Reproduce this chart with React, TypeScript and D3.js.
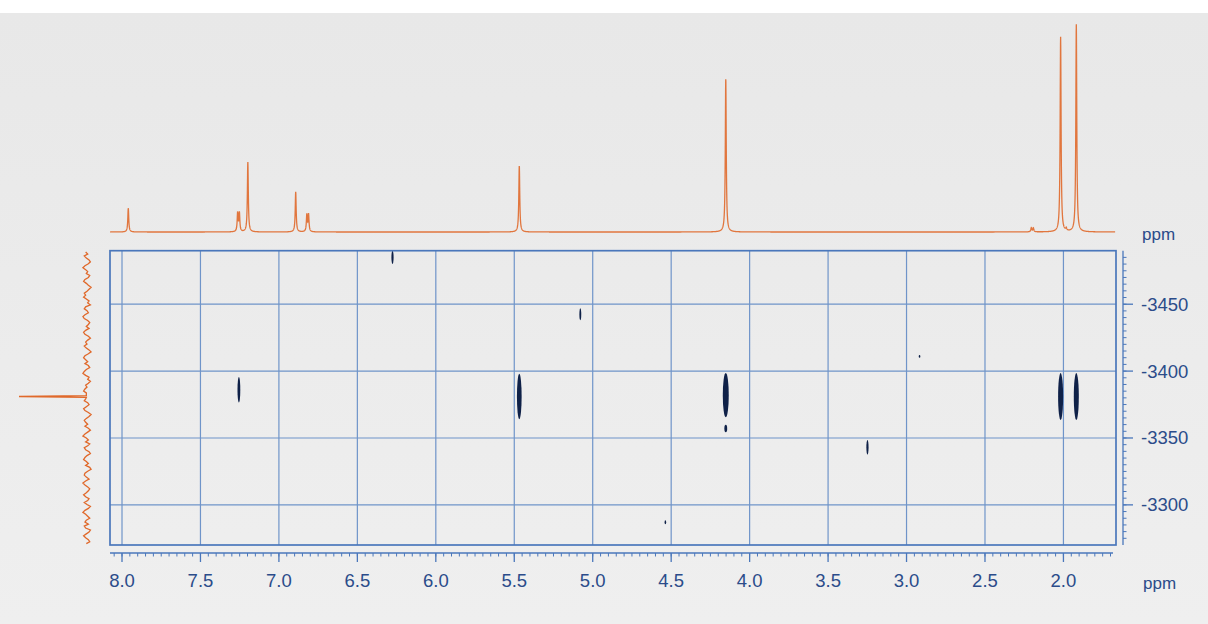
import React from 'react';
import * as d3 from 'd3';

const W = 1208;
const H = 624;

// Axis ticks (F2 = 1H, F1 = heteronucleus)
const f2Ticks = [8.0, 7.5, 7.0, 6.5, 6.0, 5.5, 5.0, 4.5, 4.0, 3.5, 3.0, 2.5, 2.0];
const f1Ticks = [-3450, -3400, -3350, -3300];

// 1D proton spectrum: line positions (ppm) and relative intensities
const h1Shifts = [7.96, 7.263, 7.252, 7.198, 6.893, 6.822, 6.811, 5.468, 4.152, 2.205, 2.192, 2.018, 1.982, 1.918];
const h1Heights = [11.3, 8.8, 8.8, 33, 18.9, 8, 8, 31.3, 72.6, 1.9, 1.9, 92, 1.2, 98];

// 2D cross peaks: F2 shift, F1 shift, half-widths in each dimension
const xpkF2 = [7.255, 5.468, 4.152, 4.152, 2.018, 1.918, 6.276, 5.079, 3.249, 2.917, 4.537];
const xpkF1 = [-3386, -3381, -3382, -3357, -3381, -3381, -3485, -3442.5, -3343, -3411, -3287];
const xpkWF2 = [0.009, 0.015, 0.019, 0.009, 0.016, 0.016, 0.007, 0.006, 0.007, 0.005, 0.005];
const xpkWF1 = [9.5, 17, 16.5, 2.8, 17.5, 17.5, 5, 4.5, 5.5, 1, 1.5];

// F1 projection: baseline noise samples (top to bottom) and the single peak
const projNoise = [
  2, -1, 4, 1, -3, -5, -2, 3, 6, 2, -1, 1, -4, -2, 3, 5, 1, -2, -6, -3, 0, 4, 2, 5, 1, -3, -1, -5, 2, 4,
  0, -2, 3, 6, 4, -1, -4, -2, 1, -3, 2, 5, 3, -2, -5, -1, 2, 0, 4, 1, -3, -6, -2, 3, 5, 2, -1, 3, -2, -4,
  1, 4, 6, 2, -3, -1, -5, -2, 2, 0, 3, 5, 1, -4, -2, 2, 4, -1, -3, 1, 5, 3, -2, -6, -3, 1, 4, 2, -1, 3,
  -2, -5, -1, 3, 6, 1, -2, 2, -4, -1, 4, 2, -3, -5, 0, 3, 5, 1, -2, 2, -4, -6, -1, 3, 4, 1, -3, 2, 6, 3,
  -1, -4, -2, 1, 5, 2, -3, -1, 4, 0, -5, -2, 3, 6, 2, -1, -4, 1, 3, -2, 4, 2, -5, -3, 1, 5, 2, -2, -4, 1
];
const projPeakF1 = -3381;
const projPeakHeight = 100;

const FONT = "'Liberation Sans', Arial, Helvetica, sans-serif";
const TEXT = '#2b4c8a';
const ORANGE = '#e0692b';
const FRAME = '#4a77bb';
const GRID = '#6f94c9';
const PEAK = '#0f2148';

export default function App() {
  const box = { left: 110, right: 1116, top: 250.7, bottom: 545 };

  const x = d3.scaleLinear().domain([8.0765, 1.665]).range([box.left, box.right]);
  const y = d3.scaleLinear().domain([-3490, -3270]).range([box.top, box.bottom]);

  // top 1D trace
  const yTop = d3.scaleLinear().domain([0, 100]).range([232, 20]);
  const hw = 0.0035;
  const step = 0.0008;
  const pts: [number, number][] = [];
  const [d0, d1] = x.domain();
  for (let p = d0 - 0.001; p >= d1 + 0.005; p -= step) {
    let s = 0;
    for (let i = 0; i < h1Shifts.length; i++) {
      const dx = p - h1Shifts[i];
      s += (h1Heights[i] * hw * hw) / (dx * dx + hw * hw);
    }
    pts.push([p, s]);
  }
  const topLine = d3
    .line<[number, number]>()
    .x((d) => x(d[0]))
    .y((d) => yTop(d[1]))(pts);

  // left F1 projection
  const xProj = d3.scaleLinear().domain([0, 100]).range([87, 19]);
  const f1Start = -3489;
  const f1End = -3271;
  const nStep = (f1End - f1Start) / (projNoise.length - 1);
  const proj: [number, number][] = projNoise.map((v, i) => [f1Start + i * nStep, v]);
  const projAll = proj
    .filter((d) => Math.abs(d[0] - projPeakF1) > 1.2)
    .concat([
      [projPeakF1 - 0.7, 1],
      [projPeakF1, projPeakHeight],
      [projPeakF1 + 0.7, 1],
    ])
    .sort((a, b) => a[0] - b[0]);
  const projLine = d3
    .line<[number, number]>()
    .x((d) => xProj(d[1]))
    .y((d) => y(d[0]))(projAll);

  // minor ticks
  const f2Minor = d3.range(0, 129).map((i) => 8.0 - i * 0.05).filter((v) => v >= 1.68);
  const f2MinorExtra = [8.05];
  const f1Minor = d3.range(-3485, -3270, 5);

  const axisY = 553;
  const axisX = 1123;

  return (
    <svg
      width={W}
      height={H}
      viewBox={`0 0 ${W} ${H}`}
      style={{ position: 'absolute', left: 0, top: 0, display: 'block' }}
    >
      <defs>
        <linearGradient id="bg" x1="0" y1="0" x2="0" y2="1">
          <stop offset="0" stopColor="#e8e8e8" />
          <stop offset="1" stopColor="#efefef" />
        </linearGradient>
        <clipPath id="plotClip">
          <rect x={box.left} y={box.top} width={box.right - box.left} height={box.bottom - box.top} />
        </clipPath>
      </defs>

      <rect x={0} y={0} width={W} height={H} fill="#ffffff" />
      <rect x={0} y={13} width={W} height={H - 13} fill="url(#bg)" />

      {/* 1D proton spectrum on top */}
      <path d={topLine ?? ''} fill="none" stroke={ORANGE} strokeWidth={1.3} strokeOpacity={0.9} />

      {/* F1 projection on the left */}
      <path d={projLine ?? ''} fill="none" stroke={ORANGE} strokeWidth={1.3} />

      {/* grid */}
      {f2Ticks.map((t) => (
        <line key={`gx${t}`} x1={x(t)} x2={x(t)} y1={box.top} y2={box.bottom} stroke={GRID} strokeWidth={1.2} />
      ))}
      {f1Ticks.map((t) => (
        <line key={`gy${t}`} x1={box.left} x2={box.right} y1={y(t)} y2={y(t)} stroke={GRID} strokeWidth={1.2} />
      ))}

      {/* cross peaks */}
      <g clipPath="url(#plotClip)">
        {xpkF2.map((f2, i) => (
          <ellipse
            key={`pk${i}`}
            cx={x(f2)}
            cy={y(xpkF1[i])}
            rx={Math.abs(x(f2 + xpkWF2[i]) - x(f2))}
            ry={Math.abs(y(xpkF1[i] + xpkWF1[i]) - y(xpkF1[i]))}
            fill={PEAK}
          />
        ))}
      </g>

      {/* frame */}
      <rect
        x={box.left}
        y={box.top}
        width={box.right - box.left}
        height={box.bottom - box.top}
        fill="none"
        stroke={FRAME}
        strokeWidth={1.7}
      />

      {/* bottom axis */}
      <line x1={box.left} x2={box.right - 3} y1={axisY} y2={axisY} stroke={FRAME} strokeWidth={1.3} />
      {f2Minor.concat(f2MinorExtra).map((t) => (
        <line key={`mx${t.toFixed(2)}`} x1={x(t)} x2={x(t)} y1={axisY} y2={axisY + 3.5} stroke={FRAME} strokeWidth={1} />
      ))}
      {f2Ticks.map((t) => (
        <g key={`tx${t}`}>
          <line x1={x(t)} x2={x(t)} y1={axisY} y2={axisY + 9} stroke={FRAME} strokeWidth={1.3} />
          <text x={x(t)} y={587} textAnchor="middle" fontFamily={FONT} fontSize={18.5} fill={TEXT}>
            {t.toFixed(1)}
          </text>
        </g>
      ))}
      <text x={1143} y={589} fontFamily={FONT} fontSize={17} fill={TEXT}>
        ppm
      </text>

      {/* right axis */}
      <line x1={axisX} x2={axisX} y1={box.top} y2={box.bottom} stroke={FRAME} strokeWidth={1.3} />
      {f1Minor.map((t) => (
        <line key={`my${t}`} x1={axisX} x2={axisX + 3.5} y1={y(t)} y2={y(t)} stroke={FRAME} strokeWidth={1} />
      ))}
      {f1Ticks.map((t) => (
        <g key={`ty${t}`}>
          <line x1={axisX} x2={axisX + 10} y1={y(t)} y2={y(t)} stroke={FRAME} strokeWidth={1.3} />
          <text x={1141} y={y(t) + 6.5} fontFamily={FONT} fontSize={18.5} fill={TEXT}>
            {t}
          </text>
        </g>
      ))}
      <text x={1142} y={240} fontFamily={FONT} fontSize={17} fill={TEXT}>
        ppm
      </text>
    </svg>
  );
}
